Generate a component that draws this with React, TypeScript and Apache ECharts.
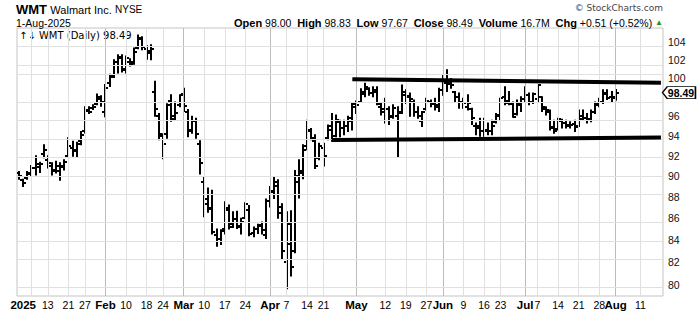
import React, { useEffect, useRef } from 'react';
import * as echarts from 'echarts';

// Trading days shown on the chart (Dec 31 2024 .. Aug 1 2025 plus empty future slots)
const tradingDays: [string, number[]][] = [
  ['Dec', [31]],
  ['Jan', [2, 3, 6, 7, 8, 10, 13, 14, 15, 16, 17, 21, 22, 23, 24, 27, 28, 29, 30, 31]],
  ['Feb', [3, 4, 5, 6, 7, 10, 11, 12, 13, 14, 18, 19, 20, 21, 24, 25, 26, 27, 28]],
  ['Mar', [3, 4, 5, 6, 7, 10, 11, 12, 13, 14, 17, 18, 19, 20, 21, 24, 25, 26, 27, 28, 31]],
  ['Apr', [1, 2, 3, 4, 7, 8, 9, 10, 11, 14, 15, 16, 17, 21, 22, 23, 24, 25, 28, 29, 30]],
  ['May', [1, 2, 5, 6, 7, 8, 9, 12, 13, 14, 15, 16, 19, 20, 21, 22, 23, 27, 28, 29, 30]],
  ['Jun', [2, 3, 4, 5, 6, 9, 10, 11, 12, 13, 16, 17, 18, 20, 23, 24, 25, 26, 27, 30]],
  ['Jul', [1, 2, 3, 7, 8, 9, 10, 11, 14, 15, 16, 17, 18, 21, 22, 23, 24, 25, 28, 29, 30, 31]],
  ['Aug', [1, 4, 5, 6, 7, 8, 11, 12, 13, 14, 15, 18]],
];
const categories: string[] = tradingDays.flatMap(([m, ds]) => ds.map((d) => `${m} ${d}`));

const opens = [
  90.3, 89.6, 89.8, 90.3, 90.8, 90.9, 92.2, 91.6, 91.0, 90.6,
  90.5, 91.0, 92.0, 92.8, 92.5, 93.5, 94.5, 96.6, 96.9, 97.3,
  97.8, 96.5, 99.5, 100.3, 101.8, 102.3, 101.0, 101.8, 101.8, 103.3,
  104.3, 103.2, 102.8, 98.5, 96.0, 94.0, 94.2, 97.6, 96.0, 97.2,
  98.3, 96.5, 94.6, 95.5, 93.2, 89.4, 87.8, 87.0, 84.5, 84.1,
  85.0, 86.8, 85.5, 85.9, 85.2, 86.0, 86.8, 84.6, 85.0, 85.3,
  84.5, 87.6, 88.5, 89.0, 86.5, 82.0, 85.5, 83.0, 90.0, 90.5,
  93.0, 94.5, 93.5, 91.8, 92.8, 93.8, 95.0, 94.0, 95.4, 94.8,
  95.0, 95.5, 97.3, 97.5, 98.3, 98.9, 98.4, 98.8, 97.0, 96.5,
  96.8, 96.0, 96.0, 96.5, 98.5, 98.0, 97.5, 96.5, 95.5, 96.8,
  97.5, 97.3, 97.0, 98.8, 99.5, 99.5, 98.5, 98.0, 97.5, 97.0,
  96.8, 95.0, 95.0, 94.5, 94.6, 94.5, 95.4, 96.0, 98.0, 97.6,
  97.3, 96.2, 97.2, 97.8, 98.2, 97.5, 97.8, 98.0, 96.8, 96.5,
  94.8, 94.7, 95.5, 95.3, 95.0, 95.2, 95.0, 96.0, 95.8, 95.6,
  96.5, 97.2, 97.5, 98.4, 98.0, 98.0,
];
const highs = [
  90.45, 89.7, 90.45, 91.05, 92.0, 91.35, 93.1, 92.0, 91.3, 91.45,
  91.3, 91.6, 93.8, 93.45, 93.35, 94.45, 97.0, 97.0, 97.2, 98.35,
  98.15, 99.35, 100.45, 102.05, 102.6, 102.6, 102.45, 102.15, 103.35, 104.8,
  104.6, 103.6, 103.7, 99.7, 96.3, 94.2, 97.3, 98.25, 97.5, 98.25,
  98.95, 96.7, 96.0, 95.8, 93.5, 89.9, 88.85, 88.65, 85.0, 84.95,
  87.55, 87.25, 86.6, 86.65, 86.0, 87.45, 87.2, 85.2, 85.45, 85.65,
  87.8, 89.0, 89.95, 89.65, 87.35, 86.6, 86.7, 90.55, 91.6, 93.1,
  95.6, 94.75, 94.1, 93.25, 93.25, 95.1, 96.3, 96.15, 95.6, 95.6,
  96.0, 97.45, 97.6, 98.9, 99.5, 99.0, 99.1, 99.1, 97.35, 97.9,
  97.0, 97.2, 97.0, 99.3, 98.8, 98.45, 97.7, 97.0, 96.5, 97.9,
  97.7, 97.9, 98.95, 100.4, 100.95, 100.0, 98.6, 98.45, 97.9, 98.25,
  96.85, 95.3, 95.8, 95.8, 95.3, 95.6, 96.3, 97.9, 99.1, 98.6,
  97.5, 97.7, 98.05, 99.1, 98.45, 98.45, 99.3, 98.05, 97.0, 96.65,
  95.6, 95.8, 95.7, 95.6, 95.45, 95.6, 96.65, 96.65, 96.3, 96.65,
  97.5, 97.9, 98.8, 98.8, 98.6, 98.83,
];
const lows = [
  89.7, 89.0, 89.7, 90.0, 90.1, 90.35, 91.8, 90.8, 90.1, 90.3,
  89.6, 90.6, 91.9, 91.95, 91.9, 93.1, 94.3, 96.3, 96.7, 97.2,
  97.05, 95.95, 99.15, 100.1, 100.6, 100.7, 100.6, 101.35, 101.55, 103.25,
  103.15, 102.1, 102.05, 96.0, 93.6, 91.7, 93.75, 95.5, 95.6, 97.0,
  96.5, 93.9, 94.25, 93.75, 90.2, 86.15, 86.55, 84.55, 83.45, 83.6,
  84.55, 85.0, 85.15, 85.05, 84.55, 86.0, 84.4, 84.3, 84.6, 84.55,
  84.15, 87.05, 87.85, 86.0, 82.35, 79.7, 80.8, 82.85, 87.9, 89.75,
  92.6, 93.6, 90.75, 91.6, 91.0, 93.6, 93.45, 93.9, 93.9, 94.1,
  94.45, 94.6, 96.3, 97.5, 98.05, 98.2, 98.05, 97.2, 96.15, 95.3,
  95.15, 95.8, 91.9, 96.3, 97.35, 96.0, 96.0, 95.8, 94.95, 96.65,
  97.0, 96.65, 96.5, 98.2, 98.6, 98.95, 97.5, 96.85, 96.85, 96.65,
  95.15, 94.1, 93.95, 93.95, 94.1, 94.1, 95.3, 95.6, 97.2, 97.2,
  95.9, 96.15, 96.5, 97.5, 97.2, 97.35, 97.5, 96.5, 96.15, 94.6,
  94.25, 94.6, 94.8, 94.8, 94.8, 94.45, 94.95, 95.6, 95.3, 95.45,
  96.3, 97.0, 97.35, 97.75, 97.5, 97.67,
];
const closes = [
  90.0, 89.3, 90.2, 90.8, 91.2, 91.2, 92.6, 91.3, 90.5, 91.0,
  90.9, 91.4, 93.0, 92.6, 93.2, 94.1, 96.7, 96.5, 97.0, 98.0,
  97.5, 98.95, 100.2, 101.8, 102.2, 100.9, 102.2, 101.6, 102.9, 104.5,
  103.5, 103.0, 103.2, 96.75, 94.2, 93.15, 97.2, 95.7, 96.3, 98.2,
  97.1, 94.5, 95.55, 94.15, 91.3, 87.3, 86.9, 84.7, 84.1, 84.85,
  87.0, 85.15, 85.9, 85.3, 85.7, 87.3, 84.55, 85.0, 85.4, 84.9,
  87.6, 88.6, 89.45, 87.05, 83.0, 83.6, 81.6, 89.4, 90.35, 92.6,
  94.55, 93.8, 91.0, 92.95, 92.0, 94.55, 93.6, 95.6, 94.8, 95.05,
  95.8, 97.0, 97.2, 98.5, 99.1, 98.4, 98.5, 97.25, 96.75, 96.75,
  95.9, 96.85, 96.35, 98.25, 98.15, 97.8, 96.4, 96.0, 96.4, 97.6,
  97.3, 97.2, 98.75, 99.7, 99.4, 99.3, 98.05, 97.5, 97.4, 97.35,
  95.8, 94.8, 94.45, 94.45, 94.45, 95.05, 96.15, 97.9, 97.35, 97.35,
  95.95, 97.35, 97.8, 98.25, 97.5, 98.3, 99.25, 97.0, 96.65, 94.9,
  94.45, 95.7, 95.3, 95.1, 95.1, 94.95, 95.7, 95.8, 95.7, 96.5,
  97.35, 97.5, 98.35, 97.95, 97.95, 98.49,
];

const priceTicks = [80, 82, 84, 86, 88, 90, 92, 94, 96, 98, 100, 102, 104];
const dateLabels: [string, string][] = [
  ['Jan 2', '2025'], ['Jan 13', '13'], ['Jan 21', '21'], ['Jan 27', '27'],
  ['Feb 3', 'Feb'], ['Feb 10', '10'], ['Feb 18', '18'], ['Feb 24', '24'],
  ['Mar 3', 'Mar'], ['Mar 10', '10'], ['Mar 17', '17'], ['Mar 24', '24'],
  ['Apr 1', 'Apr'], ['Apr 7', '7'], ['Apr 14', '14'], ['Apr 21', '21'],
  ['May 1', 'May'], ['May 12', '12'], ['May 19', '19'], ['May 27', '27'],
  ['Jun 2', 'Jun'], ['Jun 9', '9'], ['Jun 16', '16'], ['Jun 23', '23'],
  ['Jul 1', 'Jul'], ['Jul 7', '7'], ['Jul 14', '14'], ['Jul 21', '21'], ['Jul 28', '28'],
  ['Aug 1', 'Aug'], ['Aug 11', '11'],
];
const boldLabels = ['2025', 'Feb', 'Mar', 'Apr', 'May', 'Jun', 'Jul', 'Aug'];
const weekGridDates = [
  'Jan 6', 'Jan 13', 'Jan 21', 'Jan 27', 'Feb 10', 'Feb 18', 'Feb 24', 'Mar 10', 'Mar 17', 'Mar 24',
  'Apr 7', 'Apr 14', 'Apr 21', 'May 12', 'May 19', 'May 27', 'Jun 9', 'Jun 16', 'Jun 23',
  'Jul 7', 'Jul 14', 'Jul 21', 'Jul 28', 'Aug 11',
];
const monthGridDates = ['Feb 3', 'Mar 3', 'Apr 1', 'May 1', 'Jun 2', 'Jul 1', 'Aug 1'];
const resistanceLine: [string, number][] = [['Apr 30', 99.92], ['Aug 18', 99.55]];
const supportLine: [string, number][] = [['Apr 23', 93.58], ['Aug 18', 93.82]];
const lastClose = 98.49;
const hiddenTick = 98; // covered by the last-price box in the reference
const yMinPrice = 79.08;
const yMaxPrice = 105.6;

const FONT = 'Arial, "Liberation Sans", sans-serif';
const L = Math.log;

export default function App() {
  const ref = useRef<HTMLDivElement>(null);
  useEffect(() => {
    if (!ref.current) return;
    const chart = echarts.init(ref.current, undefined, { renderer: 'svg' });
    const labelMap = new Map(dateLabels);
    const gridStyleLight = { color: '#e0e0e0', width: 1, type: 'solid' };
    const gridStyleDark = { color: '#bcbcbc', width: 1, type: 'solid' };
    const trendStyle = { color: '#000', width: 4, type: 'solid' };

    const option: any = {
      animation: false,
      grid: {
        left: 17, right: 37, top: 28, bottom: 16,
        show: true, borderColor: '#c4c4c4', borderWidth: 1, backgroundColor: 'transparent',
      },
      xAxis: {
        type: 'category',
        data: categories,
        boundaryGap: true,
        axisLine: { show: false },
        axisTick: { show: false },
        splitLine: { show: false },
        axisLabel: {
          interval: (_i: number, v: string) => labelMap.has(v),
          formatter: (v: string) => {
            const t = labelMap.get(v) || '';
            return boldLabels.includes(t) ? `{b|${t}}` : t;
          },
          fontFamily: FONT,
          fontSize: 10.5,
          color: '#000',
          margin: 3,
          rich: { b: { fontWeight: 'bold', fontSize: 11.5, fontFamily: FONT, color: '#000' } },
        },
      },
      yAxis: {
        type: 'value',
        position: 'right',
        min: L(yMinPrice),
        max: L(yMaxPrice),
        axisLine: { show: false },
        axisTick: { show: false },
        splitLine: { show: false },
        axisLabel: {
          customValues: priceTicks.filter((p) => p !== hiddenTick).map(L),
          formatter: (v: number) => String(Math.round(Math.exp(v))),
          fontFamily: FONT,
          fontSize: 10.5,
          color: '#111',
          margin: 5,
        },
      },
      graphic: [
        {
          type: 'text', left: 16, top: 3,
          style: {
            text: '{t|WMT} {n|Walmart Inc.} {s|NYSE}',
            rich: {
              t: { fontFamily: FONT, fontWeight: 'bold', fontSize: 13, fill: '#000', color: '#000' },
              n: { fontFamily: FONT, fontSize: 11, fill: '#000', color: '#000' },
              s: { fontFamily: FONT, fontSize: 10, fill: '#000', color: '#000' },
            },
          },
        },
        {
          type: 'text', left: 16, top: 17,
          style: { text: '1-Aug-2025', fontFamily: FONT, fontSize: 10.5, fill: '#000' },
        },
        {
          type: 'text', right: 37, top: 17,
          style: {
            text: '{b|Open} 98.00  {b|High} 98.83  {b|Low} 97.67  {b|Close} 98.49  {b|Volume} 16.7M  {b|Chg} +0.51 (+0.52%) {g|▲}',
            fontFamily: FONT, fontSize: 10.5, fill: '#000',
            rich: {
              b: { fontFamily: FONT, fontWeight: 'bold', fontSize: 11, fill: '#000', color: '#000' },
              g: { fontFamily: FONT, fontSize: 8, fill: '#1a9a1a', color: '#1a9a1a' },
            },
          },
        },
        {
          type: 'text', right: 37, top: 3,
          style: { text: '© StockCharts.com', fontFamily: '"DejaVu Sans", sans-serif', fontSize: 9, fill: '#444' },
        },
        {
          type: 'text', left: 19, top: 30,
          style: { text: '↑↓ WMT (Daily) 98.49', fontFamily: '"DejaVu Sans", sans-serif', fontSize: 10, fill: '#000' },
        },
      ],
      series: [
        {
          type: 'line',
          z: 1,
          silent: true,
          showSymbol: false,
          data: closes.map((c, i) => [i, L(c)]),
          lineStyle: { opacity: 0 },
          markLine: {
            silent: true,
            symbol: ['none', 'none'],
            label: { show: false },
            data: [
              ...weekGridDates.map((d) => ({ xAxis: d, lineStyle: gridStyleLight })),
              ...monthGridDates.map((d) => ({ xAxis: d, lineStyle: gridStyleDark })),
              ...priceTicks.map((p) => ({ yAxis: L(p), lineStyle: gridStyleLight })),
            ],
          },
        },
        {
          type: 'custom',
          z: 2,
          clip: true,
          data: opens.map((o, i) => [i, L(o), L(highs[i]), L(lows[i]), L(closes[i])]),
          encode: { x: 0, y: [1, 2, 3, 4] },
          renderItem: (_params: any, api: any) => {
            const i = api.value(0);
            const pO = api.coord([i, api.value(1)]);
            const pH = api.coord([i, api.value(2)]);
            const pL = api.coord([i, api.value(3)]);
            const pC = api.coord([i, api.value(4)]);
            const x = Math.round(pH[0]);
            const st = { stroke: '#000', lineWidth: 2 };
            const yo = Math.round(pO[1]);
            const yc = Math.round(pC[1]);
            return {
              type: 'group',
              children: [
                { type: 'line', shape: { x1: x, y1: pH[1] - 0.5, x2: x, y2: pL[1] + 0.5 }, style: st },
                { type: 'line', shape: { x1: x - 3, y1: yo, x2: x, y2: yo }, style: st },
                { type: 'line', shape: { x1: x, y1: yc, x2: x + 3, y2: yc }, style: st },
              ],
            };
          },
        },
        {
          type: 'line',
          z: 3,
          silent: true,
          showSymbol: false,
          data: closes.map((c, i) => [i, L(c)]),
          lineStyle: { opacity: 0 },
          markLine: {
            silent: true,
            symbol: ['none', 'none'],
            label: { show: false },
            lineStyle: trendStyle,
            data: [
              [
                { coord: [resistanceLine[0][0], L(resistanceLine[0][1])], lineStyle: trendStyle },
                { coord: [resistanceLine[1][0], L(resistanceLine[1][1])], lineStyle: trendStyle },
              ],
              [
                { coord: [supportLine[0][0], L(supportLine[0][1])], lineStyle: trendStyle },
                { coord: [supportLine[1][0], L(supportLine[1][1])], lineStyle: trendStyle },
              ],
            ],
          },
          markPoint: {
            silent: true,
            symbol: 'path://M0,6L5,0L34,0L34,12L5,12Z',
            symbolSize: [33, 12],
            symbolKeepAspect: false,
            symbolOffset: [18, 0],
            itemStyle: { color: '#fff', borderColor: '#000', borderWidth: 1 },
            label: {
              show: true,
              position: 'inside',
              offset: [2, 0],
              formatter: lastClose.toFixed(2),
              fontFamily: FONT,
              fontWeight: 'bold',
              fontSize: 10.5,
              color: '#000',
            },
            data: [{ coord: [categories[categories.length - 1], L(lastClose)], value: lastClose }],
          },
        },
      ],
    };
    chart.setOption(option);
    return () => chart.dispose();
  }, []);
  return (
    <div
      ref={ref}
      style={{ position: 'fixed', left: 0, top: 0, width: 700, height: 312, background: '#fff' }}
    />
  );
}
